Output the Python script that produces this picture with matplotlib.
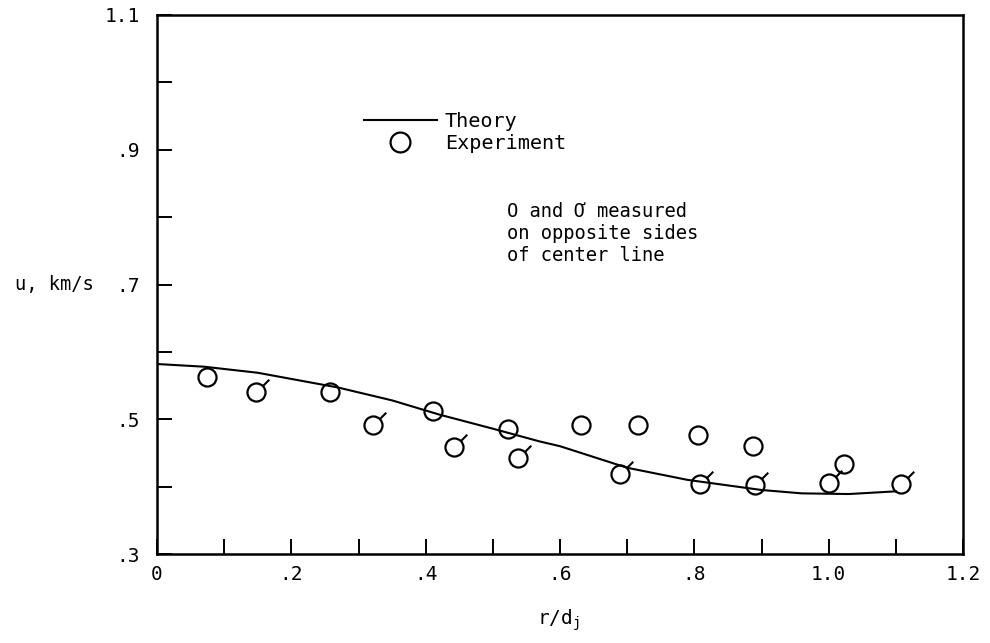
import matplotlib
matplotlib.use("Agg")
import matplotlib.pyplot as plt
from matplotlib.path import Path
from matplotlib.markers import MarkerStyle
from matplotlib.ticker import MultipleLocator

plt.rcParams["font.family"] = ["DejaVu Sans Mono"]
plt.rcParams["mathtext.fontset"] = "custom"
plt.rcParams["mathtext.rm"] = "DejaVu Sans Mono"
plt.rcParams["mathtext.it"] = "DejaVu Sans Mono"

# theory curve
theory_r = [0.0, 0.07, 0.15, 0.27, 0.35, 0.42, 0.50, 0.57, 0.60, 0.70,
            0.79, 0.90, 0.96, 1.03, 1.10]
theory_u = [0.582, 0.578, 0.569, 0.547, 0.528, 0.507, 0.486, 0.467, 0.460,
            0.428, 0.410, 0.395, 0.390, 0.389, 0.393]

# experiment, one side of the center line
plain_r = [0.074, 0.258, 0.411, 0.523, 0.631, 0.716, 0.806, 0.887, 1.023]
plain_u = [0.562, 0.541, 0.512, 0.486, 0.491, 0.492, 0.477, 0.460, 0.434]

# experiment, other side (flagged symbols)
flag_r = [0.147, 0.321, 0.442, 0.538, 0.689, 0.809, 0.891, 1.001, 1.107]
flag_u = [0.540, 0.491, 0.459, 0.443, 0.419, 0.404, 0.403, 0.405, 0.404]

xticks = [0, 0.2, 0.4, 0.6, 0.8, 1.0, 1.2]
xticklabels = ["0", ".2", ".4", ".6", ".8", "1.0", "1.2"]
yticks = [0.3, 0.5, 0.7, 0.9, 1.1]
yticklabels = [".3", ".5", ".7", ".9", "1.1"]

fig = plt.figure(figsize=(9.9, 6.43), dpi=100)
ax = fig.add_axes([157 / 990, 1 - 554 / 643, 806 / 990, 539 / 643])

ax.plot(theory_r, theory_u, color="black", lw=1.5, label="Theory")
ax.plot(plain_r, plain_u, "o", ms=13, mfc="none", mec="black", mew=1.6,
        label="Experiment")
ax.plot(flag_r, flag_u, "o", ms=13, mfc="none", mec="black", mew=1.6)
flag = MarkerStyle(Path([(4.8, 4.8), (9.2, 9.2)]))
ax.plot(flag_r, flag_u, ls="none", marker=flag, ms=18.4, mfc="none",
        mec="black", mew=1.5)

ax.set_xlim(0, 1.2)
ax.set_ylim(0.3, 1.1)
ax.set_xticks(xticks, xticklabels)
ax.set_yticks(yticks, yticklabels)
ax.xaxis.set_minor_locator(MultipleLocator(0.1))
ax.yaxis.set_minor_locator(MultipleLocator(0.1))
ax.tick_params(which="both", direction="in", length=11, width=1.4,
               labelsize=14)
ax.tick_params(axis="x", pad=8)
ax.tick_params(axis="y", pad=12)
for s in ax.spines.values():
    s.set_linewidth(1.8)

ax.legend(loc="upper left", bbox_to_anchor=(364 / 990, 1 - 112 / 643),
          bbox_transform=fig.transFigure, frameon=False, fontsize=14.5,
          handlelength=3.6, handletextpad=0.42, labelspacing=0.15,
          borderpad=0, borderaxespad=0, markerscale=1.1)

fig.text(507 / 990, 1 - 202 / 643,
         "O and Ơ measured\non opposite sides\nof center line",
         ha="left", va="top", fontsize=13.5, linespacing=1.2)

fig.text(15 / 990, 1 - 285 / 643, "u, km/s", ha="left", va="center",
         fontsize=13.5)
fig.text(558 / 990, 1 - 620 / 643, r"$\mathrm{r/d_j}$", ha="center",
         va="center", fontsize=14)

fig.savefig("out.png", dpi=100)
